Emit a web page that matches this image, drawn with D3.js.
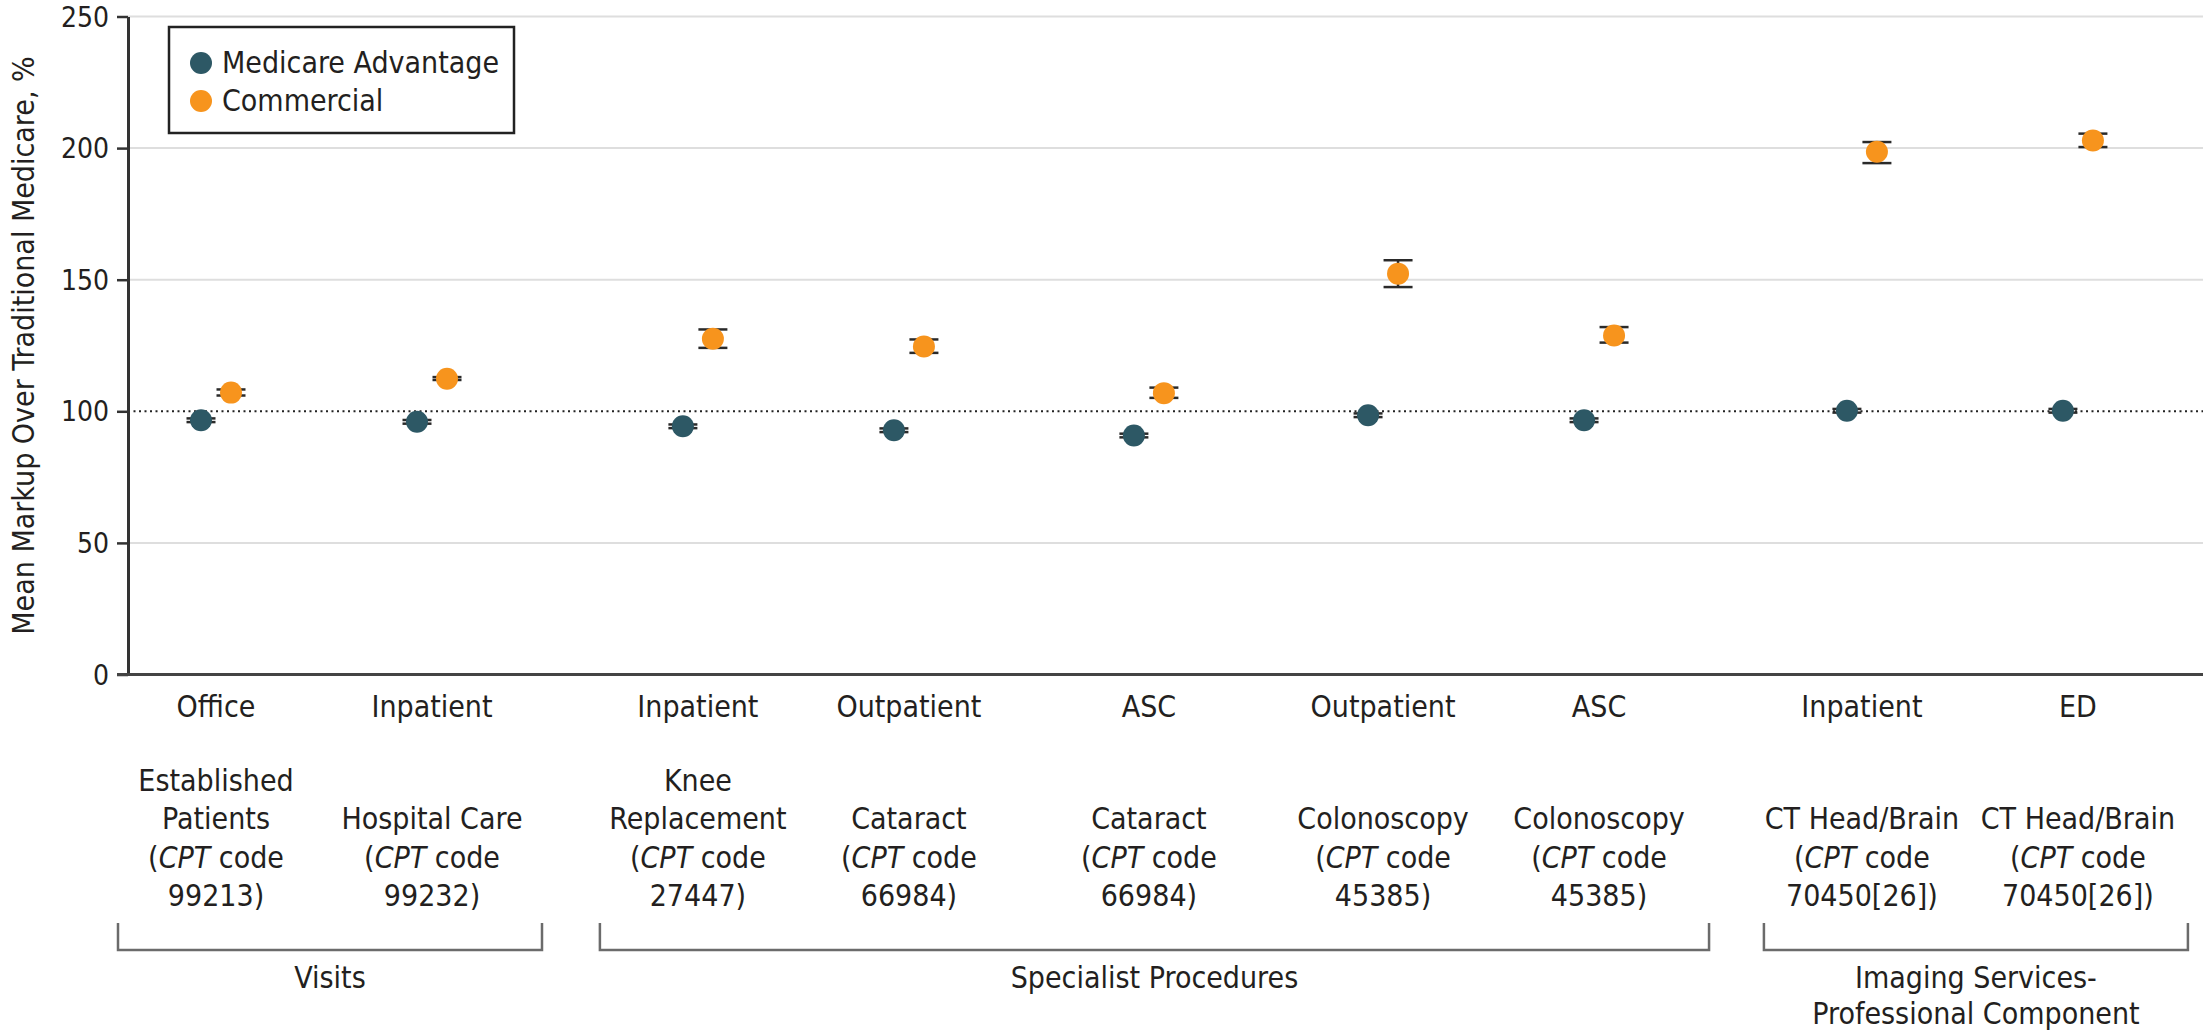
<!DOCTYPE html>
<html>
<head>
<meta charset="utf-8">
<script src="https://cdn.jsdelivr.net/npm/d3@7"></script>
<style>
  html, body { margin: 0; padding: 0; background: #fff; }
  svg { display: block; }
  text { font-family: "Liberation Sans Narrow", "DejaVu Sans Condensed", "Liberation Sans", sans-serif; fill: #231f20; }
</style>
</head>
<body>
<svg id="chart" width="2203" height="1035"></svg>
<script>
// Care setting shown under each column
const settings = ["Office", "Inpatient", "Inpatient", "Outpatient", "ASC", "Outpatient", "ASC", "Inpatient", "ED"];
// Service description lines (bottom aligned)
const services = [
  ["Established", "Patients", "(CPT code", "99213)"],
  ["Hospital Care", "(CPT code", "99232)"],
  ["Knee", "Replacement", "(CPT code", "27447)"],
  ["Cataract", "(CPT code", "66984)"],
  ["Cataract", "(CPT code", "66984)"],
  ["Colonoscopy", "(CPT code", "45385)"],
  ["Colonoscopy", "(CPT code", "45385)"],
  ["CT Head/Brain", "(CPT code", "70450[26])"],
  ["CT Head/Brain", "(CPT code", "70450[26])"]
];
const groupNames = [["Visits"], ["Specialist Procedures"], ["Imaging Services-", "Professional Component"]];
const groupOf = [0, 0, 1, 1, 1, 1, 1, 2, 2];

// Mean markup over traditional Medicare (%), with 95% CI
const maMean  = [96.6, 96.0, 94.3, 92.8, 90.8, 98.5, 96.6, 100.2, 100.2];
const maLow   = [95.9, 95.3, 93.6, 92.1, 90.1, 97.8, 95.9, 99.5, 99.5];
const maHigh  = [97.3, 96.7, 95.0, 93.5, 91.5, 99.2, 97.3, 100.9, 100.9];
const comMean = [107.1, 112.4, 127.6, 124.6, 106.9, 152.3, 128.8, 198.6, 202.9];
const comLow  = [106.0, 111.9, 124.1, 122.2, 105.1, 147.2, 126.1, 194.3, 200.4];
const comHigh = [108.3, 113.0, 131.1, 127.3, 109.0, 157.4, 132.0, 202.3, 205.5];

const seriesNames = ["Medicare Advantage", "Commercial"];
const seriesColors = ["#2d5865", "#f7941d"];
const yTicks = [0, 50, 100, 150, 200, 250];
const refValue = 100;

// Column slots along the horizontal axis (columns are not evenly spaced)
const slots = [1, 2, 3.231, 4.208, 5.319, 6.403, 7.403, 8.620, 9.620];

const axisX = 128, plotRight = 2203;
const FS = 30;

const svg = d3.select("#chart");

const x = d3.scaleLinear().domain([0, 10]).range([0, 2160]);
const y = d3.scaleLinear().domain([0, 250]).range([674.5, 16.5]);
const dodge = d3.scalePoint().domain(seriesNames).range([-15, 15]);
const color = d3.scaleOrdinal().domain(seriesNames).range(seriesColors);

// Gridlines
svg.append("g")
  .selectAll("line")
  .data(yTicks.filter(t => t !== 0 && t !== refValue))
  .join("line")
  .attr("x1", axisX).attr("x2", plotRight)
  .attr("y1", d => y(d)).attr("y2", d => y(d))
  .attr("stroke", "#dedede").attr("stroke-width", 2);

// Reference line at 100%
svg.append("line")
  .attr("x1", axisX).attr("x2", plotRight)
  .attr("y1", y(refValue)).attr("y2", y(refValue))
  .attr("stroke", "#222").attr("stroke-width", 2)
  .attr("stroke-dasharray", "2,3.5");

// Y axis
const yAxis = svg.append("g")
  .attr("transform", `translate(${axisX},0)`)
  .call(d3.axisLeft(y).tickValues(yTicks).tickSize(11).tickPadding(8).tickSizeOuter(0));
yAxis.select(".domain").attr("stroke", "#333").attr("stroke-width", 3);
yAxis.selectAll(".tick line").attr("stroke", "#333").attr("stroke-width", 2.5);
yAxis.selectAll(".tick text")
  .attr("font-size", 28)
  .attr("dy", "0.34em")
  .style("font-family", '"Liberation Sans Narrow", "DejaVu Sans Condensed", "Liberation Sans", sans-serif')
  .attr("fill", "#333");

// X baseline
svg.append("line")
  .attr("x1", axisX - 11).attr("x2", plotRight)
  .attr("y1", y(0)).attr("y2", y(0))
  .attr("stroke", "#444").attr("stroke-width", 3);

// Y title
svg.append("text")
  .attr("transform", `translate(34,${(y(0) + y(250)) / 2}) rotate(-90)`)
  .attr("text-anchor", "middle")
  .attr("font-size", FS)
  .text("Mean Markup Over Traditional Medicare, %");

// Build point records
const records = [];
settings.forEach((s, i) => {
  records.push({ i, series: seriesNames[0], mean: maMean[i], lo: maLow[i], hi: maHigh[i] });
  records.push({ i, series: seriesNames[1], mean: comMean[i], lo: comLow[i], hi: comHigh[i] });
});
const px = d => x(slots[d.i]) + dodge(d.series);
const capHalf = 14.5;

// Error bars
const eb = svg.append("g").selectAll("g").data(records).join("g")
  .attr("stroke", "#2a2a2a").attr("stroke-width", 2.5);
eb.append("line")
  .attr("x1", px).attr("x2", px)
  .attr("y1", d => y(d.lo)).attr("y2", d => y(d.hi));
eb.append("line")
  .attr("x1", d => px(d) - capHalf).attr("x2", d => px(d) + capHalf)
  .attr("y1", d => y(d.lo)).attr("y2", d => y(d.lo));
eb.append("line")
  .attr("x1", d => px(d) - capHalf).attr("x2", d => px(d) + capHalf)
  .attr("y1", d => y(d.hi)).attr("y2", d => y(d.hi));

// Points
svg.append("g").selectAll("circle").data(records).join("circle")
  .attr("cx", px)
  .attr("cy", d => y(d.mean))
  .attr("r", 11)
  .attr("fill", d => color(d.series));

// Setting labels
svg.append("g").selectAll("text").data(settings).join("text")
  .attr("x", (d, i) => x(slots[i]))
  .attr("y", 717)
  .attr("text-anchor", "middle")
  .attr("font-size", FS)
  .text(d => d);

// Service descriptions, bottom aligned to a shared last line
const lineH = 38.5, lastLine = 906;
const desc = svg.append("g");
services.forEach((lines, i) => {
  const cx = x(slots[i]);
  lines.forEach((ln, k) => {
    const t = desc.append("text")
      .attr("x", cx)
      .attr("y", lastLine - (lines.length - 1 - k) * lineH)
      .attr("text-anchor", "middle")
      .attr("font-size", FS);
    if (ln.startsWith("(CPT")) {
      t.append("tspan").text("(");
      t.append("tspan").attr("font-style", "italic").text("CPT");
      t.append("tspan").text(ln.slice(4));
    } else {
      t.text(ln);
    }
  });
});

// Group brackets and names
const brTop = 923, brBot = 950;
groupNames.forEach((names, g) => {
  const idx = groupOf.map((v, i) => v === g ? i : -1).filter(i => i >= 0);
  const x0 = x(slots[idx[0]]) - 98;
  const x1 = x(slots[idx[idx.length - 1]]) + 110;
  svg.append("path")
    .attr("d", `M${x0},${brTop}V${brBot}H${x1}V${brTop}`)
    .attr("fill", "none").attr("stroke", "#6b6b6b").attr("stroke-width", 2.5);
  names.forEach((n, k) => {
    svg.append("text")
      .attr("x", (x0 + x1) / 2)
      .attr("y", 988 + k * 36)
      .attr("text-anchor", "middle")
      .attr("font-size", FS)
      .text(n);
  });
});

// Legend
const lg = svg.append("g");
lg.append("rect")
  .attr("x", 169).attr("y", 27).attr("width", 345).attr("height", 106)
  .attr("fill", "#fff").attr("stroke", "#222").attr("stroke-width", 2.5);
seriesNames.forEach((n, k) => {
  lg.append("circle").attr("cx", 201).attr("cy", 63 + k * 38).attr("r", 11).attr("fill", color(n));
  lg.append("text").attr("x", 222).attr("y", 73 + k * 38).attr("font-size", FS).text(n);
});
</script>
</body>
</html>
